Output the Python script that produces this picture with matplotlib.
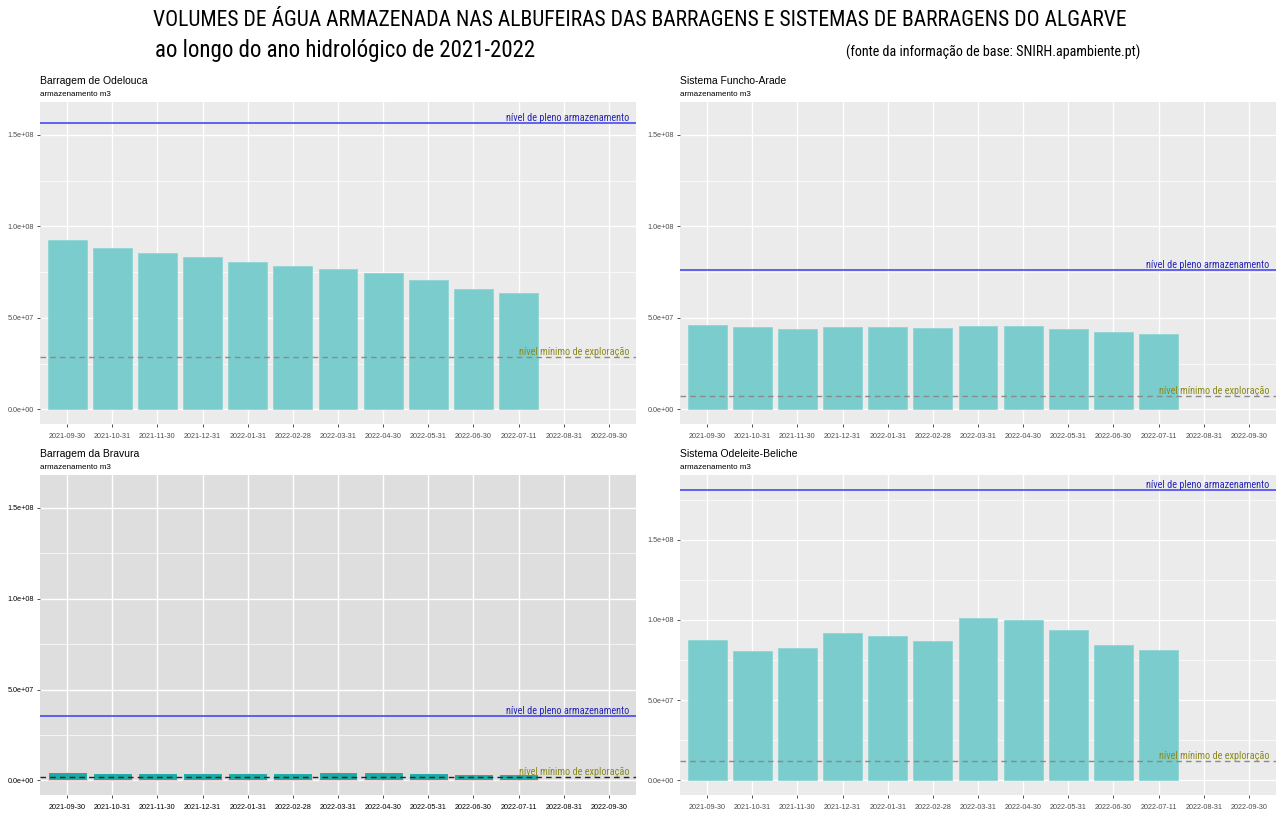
import matplotlib
matplotlib.use("Agg")
import matplotlib.pyplot as plt
from matplotlib import font_manager
from matplotlib.ticker import MultipleLocator, FuncFormatter

# --- data ---
dates = ["2021-09-30", "2021-10-31", "2021-11-30", "2021-12-31", "2022-01-31",
         "2022-02-28", "2022-03-31", "2022-04-30", "2022-05-31", "2022-06-30",
         "2022-07-11", "2022-08-31", "2022-09-30"]

odelouca = [9.26e7, 8.82e7, 8.54e7, 8.32e7, 8.05e7, 7.83e7, 7.67e7, 7.45e7, 7.07e7, 6.57e7, 6.35e7]
funcho_arade = [4.60e7, 4.49e7, 4.38e7, 4.49e7, 4.49e7, 4.44e7, 4.55e7, 4.55e7, 4.38e7, 4.22e7, 4.11e7]
bravura = [4.6e6, 4.0e6, 4.0e6, 4.0e6, 4.0e6, 4.0e6, 4.4e6, 4.4e6, 4.0e6, 3.7e6, 3.8e6]
odeleite_beliche = [8.75e7, 8.06e7, 8.25e7, 9.19e7, 9.00e7, 8.69e7, 1.0125e8, 1.00e8, 9.38e7, 8.44e7, 8.13e7]

# full storage level / minimum exploitation level
npa = {"odelouca": 1.565e8, "funcho": 7.61e7, "bravura": 3.53e7, "odeleite": 1.8125e8}
nme = {"odelouca": 2.85e7, "funcho": 7.1e6, "bravura": 1.7e6, "odeleite": 1.19e7}

# --- fonts: look for some condensed / narrow face ---
fonts = font_manager.fontManager.ttflist
narrow = None
for pref in ["Roboto Condensed", "Open Sans Condensed", "Liberation Sans Narrow",
             "DejaVu Sans Condensed", "Noto Sans Condensed"]:
    if any(f.name == pref for f in fonts):
        narrow = pref
        break
if narrow is None:
    narrow = "Liberation Sans"

plt.rcParams["font.family"] = ["Liberation Sans", "DejaVu Sans"]

W, H = 1280, 819
fig = plt.figure(figsize=(W / 100, H / 100), dpi=100)
renderer = fig.canvas.get_renderer()


def fit(t, width_px):
    # shrink/grow a text so it spans the width seen in the reference
    w = t.get_window_extent(renderer).width
    t.set_fontsize(t.get_fontsize() * width_px / w)


def box(x0, y0, x1, y1):
    return [x0 / W, 1 - y1 / H, (x1 - x0) / W, (y1 - y0) / H]


panels = [
    ("Barragem de Odelouca", odelouca, "odelouca", box(40, 102, 636, 424), (-8e6, 1.68e8), False),
    ("Sistema Funcho-Arade", funcho_arade, "funcho", box(680, 102, 1276, 424), (-8e6, 1.68e8), False),
    ("Barragem da Bravura", bravura, "bravura", box(40, 475, 636, 795), (-8e6, 1.68e8), True),
    ("Sistema Odeleite-Beliche", odeleite_beliche, "odeleite", box(680, 475, 1276, 795), (-9.07e6, 1.903e8), False),
]


def sci(v, pos):
    return "%.1e" % v


for title, vals, key, rect, ylim, dark in panels:
    ax = fig.add_axes(rect)
    ax.set_facecolor("#dedede" if dark else "#ebebeb")
    x = list(range(len(dates)))
    if dark:
        ax.bar(x[:len(vals)], vals, width=0.86, color="#1aaba5", edgecolor="#f2d4d4", linewidth=0.8, zorder=3)
    else:
        ax.bar(x[:len(vals)], vals, width=0.86, color="#7acdcc", edgecolor="#8fd6d5", linewidth=0.6, zorder=3)
    ax.axhline(npa[key], color="#3b3bf5", lw=1.1, zorder=4)
    ax.axhline(nme[key], color="#222222" if dark else "#8a8a8a", lw=1.0,
               ls=(0, (4, 3)), zorder=4)
    ax.text(12.45, npa[key], "nível de pleno armazenamento", family=narrow, fontsize=7.4,
            color="#2626b8", ha="right", va="bottom", zorder=5)
    ax.text(12.45, nme[key], "nível mínimo de exploração", family=narrow, fontsize=7.4,
            color="#8c8a1c", ha="right", va="bottom", zorder=5)

    ax.set_xlim(-0.6, 12.6)
    ax.set_ylim(*ylim)
    ax.set_xticks(x)
    ax.set_xticklabels(dates)
    ax.yaxis.set_major_locator(MultipleLocator(5e7))
    ax.yaxis.set_minor_locator(MultipleLocator(2.5e7))
    ax.yaxis.set_major_formatter(FuncFormatter(sci))
    ax.grid(True, which="major", color="white", lw=1.0, zorder=0)
    ax.grid(True, which="minor", axis="y", color="white", lw=0.5, zorder=0)
    ax.set_axisbelow(True)
    for s in ax.spines.values():
        s.set_visible(False)
    lab = "black" if dark else "#4d4d4d"
    ax.tick_params(axis="both", which="major", length=2.5, width=0.6, color="#333333",
                   labelsize=5.2, labelcolor=lab, pad=2)
    ax.tick_params(axis="y", which="minor", length=0)
    ax.tick_params(axis="x", pad=4)

    x0 = rect[0]
    ytop = rect[1] + rect[3]
    fig.text(x0, ytop + 16 / H, title, fontsize=7.5, color="black", ha="left", va="bottom")
    fig.text(x0, ytop + 4 / H, "armazenamento m3", fontsize=5.8, color="black", ha="left", va="bottom")

t = fig.text(640 / W, 1 - 20 / H,
             "VOLUMES DE ÁGUA ARMAZENADA NAS ALBUFEIRAS DAS BARRAGENS E SISTEMAS DE BARRAGENS DO ALGARVE",
             family=narrow, fontsize=18, ha="center", va="center")
fit(t, 974)
t = fig.text(155 / W, 1 - 50 / H, "ao longo do ano hidrológico de 2021-2022",
             family=narrow, fontsize=17, ha="left", va="center")
fit(t, 380)
t = fig.text(1140 / W, 1 - 52 / H, "(fonte da informação de base: SNIRH.apambiente.pt)",
             family=narrow, fontsize=11, ha="right", va="center")
fit(t, 295)

fig.savefig("out.png", dpi=100)
